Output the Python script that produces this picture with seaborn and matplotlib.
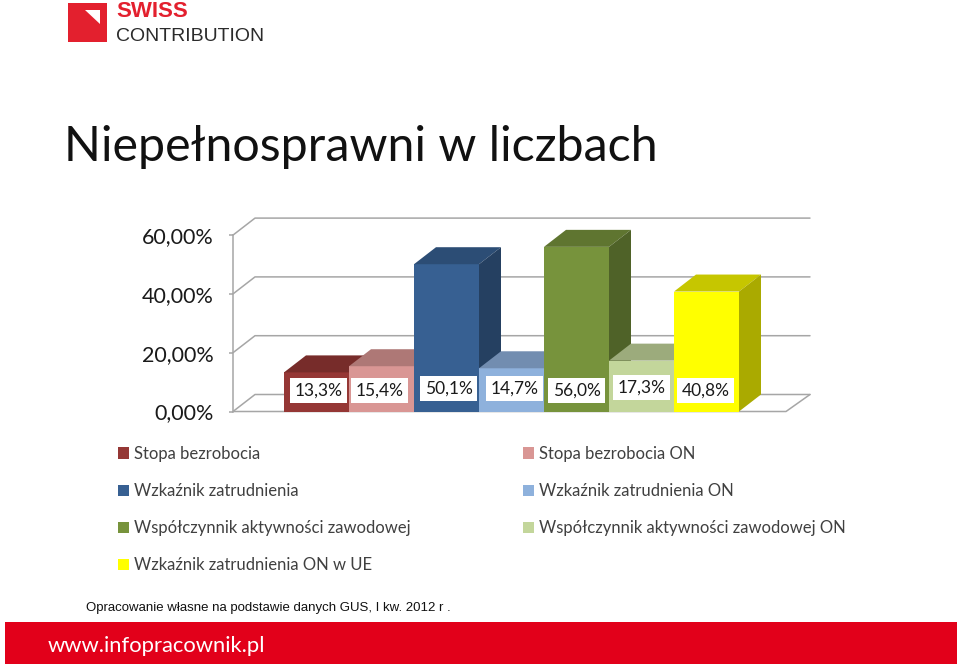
import seaborn as sns
import matplotlib.pyplot as plt
import pandas as pd
from matplotlib.patches import Polygon, Rectangle

series = ['Stopa bezrobocia', 'Stopa bezrobocia ON', 'Wzkaźnik zatrudnienia', 'Wzkaźnik zatrudnienia ON',
          'Współczynnik aktywności zawodowej', 'Współczynnik aktywności zawodowej ON', 'Wzkaźnik zatrudnienia ON w UE']
values = [13.3, 15.4, 50.1, 14.7, 56.0, 17.3, 40.8]
value_labels = ['13,3%', '15,4%', '50,1%', '14,7%', '56,0%', '17,3%', '40,8%']
tick_values = [0, 20, 40, 60]
tick_labels = ['0,00%', '20,00%', '40,00%', '60,00%']

front_colors = ['#953735', '#D99694', '#376092', '#8EB1DC', '#77933C', '#C3D69B', '#FFFF00']
top_colors = ['#772C2A', '#AE7876', '#2C4D75', '#728DB0', '#5F7530', '#9CAB7C', '#C6C600']
side_colors = ['#6F2927', '#A27070', '#254061', '#6A84A5', '#4F6228', '#92A074', '#AAAA00']
# label box shift from bar centre, pixels (x, y up)
label_shift = [(2, 21), (-2, 21), (2, 23), (3, 23), (0, 21), (0, 24), (-1, 21)]

W, H = 960, 666
grid_col = '#A6A6A6'

sns.set_theme(style='white')
plt.rcParams['font.family'] = ['Lato', 'DejaVu Sans']

fig = plt.figure(figsize=(W / 100, H / 100), dpi=100)


def fx(px):
    return px / W


def fy(py):
    return 1 - py / H


# axes box in pixels: x 233-810, y 218-411.5
ax = fig.add_axes([fx(233), fy(411.5), (810 - 233) / W, (411.5 - 218) / H])
ax.patch.set_alpha(0)

px_cat = 65.0
px_pct = 2.94
dx = 22 / px_cat
dy = 17 / px_pct

df = pd.DataFrame({'series': series, 'value': values})
sns.barplot(data=df, x='series', y='value', hue='series', hue_order=series, order=series,
            palette=front_colors, width=1, dodge=False, saturation=1, linewidth=0, legend=True, ax=ax)

x_left = -0.5 - (284 - 233) / px_cat
x_right = -0.5 + (810 - 284) / px_cat
x_floor = -0.5 + (786 - 284) / px_cat
ax.set_xlim(x_left, x_right)
ax.set_ylim(0, (411.5 - 218) / px_pct)

# back wall gridlines and floor
for t in tick_values:
    ax.plot([x_left, x_left + dx, x_right], [t, t + dy, t + dy], color=grid_col, lw=1.1, clip_on=False, zorder=1)
ax.plot([x_left, x_floor, x_right], [0, 0, dy], color=grid_col, lw=1.1, clip_on=False, zorder=1)

# 3d faces for each bar, painter order left to right
for i, cont in enumerate(ax.containers):
    b = cont[0]
    x0, x1, h = b.get_x(), b.get_x() + b.get_width(), b.get_height()
    b.set_zorder(3 + i)
    ax.add_patch(Polygon([(x0, h), (x1, h), (x1 + dx, h + dy), (x0 + dx, h + dy)],
                         fc=top_colors[i], ec='none', zorder=3 + i))
    ax.add_patch(Polygon([(x1, 0), (x1 + dx, dy), (x1 + dx, h + dy), (x1, h)],
                         fc=side_colors[i], ec='none', zorder=3 + i))

for i, lab in enumerate(value_labels):
    ax.annotate(lab, (i, 0), xytext=label_shift[i], textcoords='offset pixels', ha='center', va='center',
                fontsize=12.5, color='#1a1a1a', zorder=20,
                bbox=dict(boxstyle='square,pad=0.27', fc='white', ec='none'))

ax.set_xticks([])
ax.set_xlabel('')
ax.set_ylabel('')
ax.set_yticks(tick_values)
ax.set_yticklabels(tick_labels, fontsize=15.5, color='#1a1a1a')
ax.tick_params(axis='y', left=True, length=3, width=1.1, color=grid_col, pad=11)
for s in ['top', 'right', 'bottom']:
    ax.spines[s].set_visible(False)
ax.spines['left'].set_color(grid_col)
ax.spines['left'].set_linewidth(1.1)
ax.spines['left'].set_bounds(0, 60)

# legend reads across rows in the original, so columns take every other entry
old = ax.get_legend()
handles = old.legend_handles
order = [0, 2, 4, 6, 1, 3, 5]
ax.legend([handles[i] for i in order], [series[i] for i in order], loc='upper left',
          bbox_to_anchor=(fx(118), fy(446)), bbox_transform=fig.transFigure, ncol=2,
          frameon=False, fontsize=12, labelcolor='#404040', handlelength=0.68, handleheight=0.68,
          labelspacing=1.27, columnspacing=6.72, handletextpad=0.3, borderpad=0, borderaxespad=0)

# header
fig.add_artist(Rectangle((fx(68), fy(42)), 39 / W, 39 / H, transform=fig.transFigure, fc='#E3202E', ec='none'))
fig.add_artist(Polygon([(fx(85), fy(10)), (fx(100), fy(10)), (fx(100), fy(24))], transform=fig.transFigure,
                       fc='white', ec='none'))
fig.text(fx(116), fy(17), 'SWISS', fontsize=16, fontweight='bold', color='#E3202E', family='Liberation Sans')
fig.text(fx(116), fy(41), 'CONTRIBUTION', fontsize=14, color='#2b2b2b', family='Liberation Sans')
fig.text(fx(64), fy(161), 'Niepełnosprawni w liczbach', fontsize=34.8, color='#111111')

# footer
fig.text(fx(86), fy(611), 'Opracowanie własne na podstawie danych GUS, I kw. 2012 r .', fontsize=9.5, color='#111111',
         family='Liberation Sans')
fig.add_artist(Rectangle((fx(5), fy(664)), 952 / W, 42 / H, transform=fig.transFigure, fc='#E2001A', ec='none'))
fig.text(fx(48), fy(652), 'www.infopracownik.pl', fontsize=15.8, color='white')

fig.savefig('out.png', dpi=100)
plt.close()
